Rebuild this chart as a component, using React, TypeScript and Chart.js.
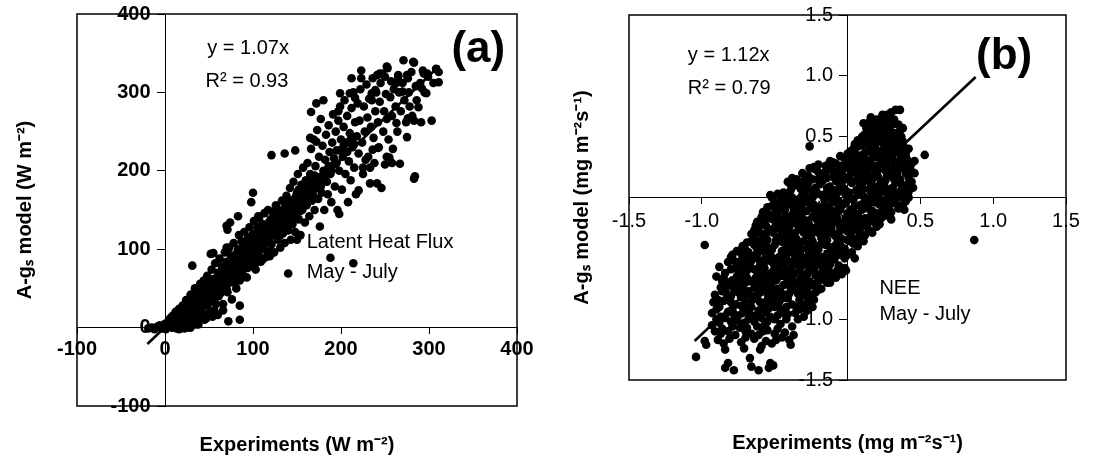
import React, { useEffect, useRef } from "react";
import { Chart, registerables } from "chart.js";

Chart.register(...registerables);

const FONT = "'Liberation Sans', Arial, Helvetica, sans-serif";

// ---------- Panel (a): Latent heat flux ----------
const latentTicksStep = 100;
const latentRange = [-100, 400];
const latentFit: [number, number][] = [[-20, -21], [312, 334]];
const latentPoints: [number, number][] = [
  [-19,-1],[-15,0],[-12,-2],[-9,1],[-6,3],[-4,-1],[-2,2],[0,5],[1,-2],[2,1],[3,1],[4,8],[5,3],[6,12],[6,4],[8,0],[8,6],[9,15],[9,8],[10,3],[11,10],[12,20],[13,-1],[13,4],[14,6],[15,14],[16,24],[16,10],[17,2],[18,10],[19,18],[19,6],
  [20,28],[21,5],[22,14],[22,9],[23,22],[24,35],[25,0],[25,16],[26,10],[27,18],[28,30],[28,12],[29,42],[30,8],[31,24],[31,18],[32,16],[33,36],[34,50],[34,22],[35,4],[35,28],[36,20],[37,44],[37,26],[38,12],[39,32],[39,20],[40,56],[40,38],
  [41,24],[42,46],[43,16],[43,30],[44,60],[45,34],[46,52],[46,40],[47,12],[48,28],[48,66],[49,40],[49,32],[50,56],[51,20],[52,48],[52,38],[53,74],[54,36],[55,62],[55,50],[56,44],[57,82],[58,30],[58,42],[59,54],[60,70],
  [61,40],[62,88],[62,54],[63,60],[64,50],[65,78],[65,58],[66,30],[67,66],[68,96],[68,64],[69,56],[70,84],[71,45],[71,62],[72,76],[73,102],[74,62],[74,72],[75,92],[76,36],[77,80],[77,70],[78,108],[79,66],[80,88],[80,78],
  [72,8],[85,10],[85,28],[31,79],[52,94],[70,130],[74,134],[83,142],[98,160],[100,172],[71,125],[55,95],[70,102],
  [81,50],[82,74],[83,100],[84,118],[84,86],[85,60],[86,88],[87,110],[88,72],[88,84],[89,96],[90,122],[91,82],[92,104],[92,94],[93,64],[94,114],[95,92],[96,128],[96,100],[97,78],[98,106],[99,118],[100,90],[100,104],
  [101,136],[102,100],[103,74],[104,116],[104,108],[105,128],[106,94],[106,142],[107,140],[108,108],[108,118],[109,84],[110,122],[110,131],[111,132],[112,100],[112,114],[113,146],[114,116],[115,90],[116,130],[117,150],[118,112],[118,126],[119,98],[120,138],[120,124],[119,91],
  [121,106],[121,220],[122,148],[123,130],[124,96],[124,130],[125,118],[126,156],[127,140],[128,112],[128,134],[129,128],[130,150],[131,102],[132,136],[133,162],[134,120],[134,140],[135,144],[136,108],[136,222],[137,130],[138,168],[139,152],[140,124],[140,150],[140,69],
  [141,140],[142,178],[143,112],[144,156],[145,132],[146,186],[146,160],[147,164],[148,122],[149,146],[150,172],[150,112],[151,196],[152,138],[152,164],[153,158],[154,118],[155,182],[156,150],[157,204],[158,166],[158,170],[159,134],[160,188],[148,226],
  [161,156],[162,210],[163,174],[164,142],[165,196],[165,242],[166,228],[167,162],[166,275],[168,186],[169,240],[170,150],[171,206],[172,178],[172,237],[173,252],[174,164],[175,218],[176,192],[176,129],[177,266],[178,172],[179,232],[180,200],[172,286],[180,290],
  [181,150],[182,214],[183,246],[184,186],[185,170],[186,258],[187,224],[188,196],[188,89],[189,160],[190,236],[191,272],[192,208],[193,180],[194,250],[195,226],[196,150],[197,264],[197,276],[198,200],[198,145],[199,282],[199,299],[200,240],
  [201,176],[202,218],[203,256],[204,290],[205,196],[206,236],[207,270],[208,160],[209,212],[210,248],[210,299],[211,188],[212,280],[212,318],[213,230],[214,300],[214,82],[215,204],[216,262],[216,293],[217,170],[218,244],[219,286],[220,222],[220,175],
  [221,264],[222,304],[223,328],[223,318],[224,236],[225,196],[225,204],[226,282],[227,250],[228,214],[229,310],[230,268],[231,218],[232,292],[233,184],[233,204],[234,256],[235,290],[235,299],[236,318],[236,227],[237,242],[238,210],[239,303],[239,276],[240,300],
  [241,322],[241,184],[242,262],[242,229],[243,230],[244,288],[244,324],[245,312],[246,178],[247,324],[248,250],[249,276],[250,208],[250,320],[251,298],[252,266],[252,333],[253,331],[252,218],[254,240],[255,217],[256,294],[257,314],[258,270],[258,210],[259,228],[260,304],
  [262,282],[263,312],[263,261],[264,250],[265,322],[265,320],[266,300],[267,209],[268,276],[270,312],[271,341],[270,301],[272,290],[274,262],[275,243],[275,322],[276,318],[276,267],[277,300],[278,282],[280,326],[281,270],[282,339],[283,338],[283,190],[283,264],[284,193],[285,308],[286,290],[288,281],[290,312],
  [291,262],[292,305],[293,328],[294,324],[295,300],[297,299],[298,324],[299,320],[303,264],[305,312],[308,330],[311,313],[311,326],
  [3,6],[7,9],[10,12],[14,12],[17,16],[21,18],[24,24],[27,26],[30,30],[33,28],[36,34],[38,40],[41,36],[44,44],[47,48],[50,44],[53,54],[56,56],[59,62],[62,66],[64,72],[67,74],[70,72],[73,80],[76,84],[79,86],[82,92],[85,96],[87,100],[90,104],[93,110],[96,112],[99,112],[102,120],[105,110],[107,124],[110,114],[113,128],[116,122],[119,132],[122,138],[125,142],[128,146],[131,140],[134,148],[137,156],[140,160],[143,162],[146,150],[149,168],[152,176],[155,170],[158,178],[161,182],[164,188],[167,190],[170,194],
  [20,12],[26,4],[33,12],[42,20],[50,32],[56,22],[63,44],[70,50],[76,58],[82,60],[88,64],[94,76],[100,80],[106,84],[112,88],[45,10],[38,4],[29,0],[22,-1],[16,-2],[54,14],[60,16],[66,22],
  [5,10],[8,14],[11,6],[14,17],[18,14],[20,20],[23,12],[26,22],[29,20],[31,32],[34,26],[36,40],[39,36],[42,34],[44,50],[47,42],[50,38],[51,52],[54,44],[57,60],[60,46],[61,58],[64,62],[66,54],[69,70],[72,66],[73,58],[75,78],[78,74],[80,68],[81,94],[84,78],[86,92],[89,88],[91,100],[94,98],[95,84],[97,108],[100,98],[101,114],[103,94],[105,104],[106,120],[109,102],[111,124],[114,108],[116,118],[118,134],[121,118],[123,140],[126,124],[129,140],[131,118],[133,130],[136,138],[138,146],[142,150],[144,136],[147,144],[150,154],[153,148],[156,160],[159,156],[162,166],[165,176],[168,170],[171,180],[174,186],[177,180],[180,188],[183,196],[186,206],[189,200],[192,216],[195,210],[199,226],[203,232],[207,224],[211,240],[215,234]
];

// ---------- Panel (b): NEE ----------
const neeTicksStep = 0.5;
const neeRange = [-1.5, 1.5];
const neeFit: [number, number][] = [[-1.05, -1.18], [0.88, 0.99]];
const neePoints: [number, number][] = [
  [-1.04,-1.31],[-0.84,-1.40],[-0.78,-1.42],[-0.61,-1.42],[-0.54,-1.40],[-0.53,-1.36],[-0.66,-1.39],[-0.67,-1.32],[-0.51,-1.38],[-0.82,-1.36],
  [-0.98,-1.18],[-0.97,-1.21],[-0.89,-1.17],[-0.85,-1.2],[-0.84,-1.25],[-0.71,-1.24],[-0.6,-1.25],[-0.59,-1.22],[-0.70,-1.15],[-0.4,-1.17],[-0.39,-1.21],[-0.77,-1.13],[-0.64,-1.16],[-0.5,-1.12],[-0.56,-1.18],
  [-0.93,-1.05],[-0.86,-1.08],[-0.8,-1.02],[-0.74,-1.07],[-0.68,-1.0],[-0.62,-1.06],[-0.55,-1.02],[-0.48,-1.08],[-0.42,-1.0],[-0.34,-1.0],[-0.9,-1.0],[-0.58,-1.1],[-0.7,-1.1],[-0.46,-1.04],
  [-0.93,-0.95],[-0.88,-0.9],[-0.82,-0.94],[-0.77,-0.88],[-0.72,-0.95],[-0.66,-0.9],[-0.6,-0.86],[-0.56,-0.94],[-0.5,-0.9],[-0.44,-0.95],[-0.38,-0.88],[-0.33,-0.92],[-0.27,-0.86],[-0.85,-0.85],[-0.63,-0.97],[-0.47,-0.86],
  [-0.89,-0.84],[-0.83,-0.79],[-0.78,-0.75],[-0.73,-0.82],[-0.68,-0.77],[-0.62,-0.81],[-0.57,-0.76],[-0.52,-0.82],[-0.46,-0.78],[-0.41,-0.83],[-0.36,-0.76],[-0.31,-0.8],[-0.27,-0.83],[-0.28,-0.76],[-0.22,-0.78],[-0.86,-0.77],[-0.65,-0.84],[-0.48,-0.75],
  [-0.83,-0.73],[-0.9,-0.65],[-0.79,-0.68],[-0.74,-0.72],[-0.69,-0.66],[-0.64,-0.71],[-0.59,-0.67],[-0.54,-0.73],[-0.49,-0.68],[-0.44,-0.72],[-0.39,-0.66],[-0.34,-0.7],[-0.29,-0.67],[-0.24,-0.72],[-0.19,-0.68],[-0.14,-0.7],[-0.12,-0.7],[-0.56,-0.65],[-0.72,-0.74],[-0.31,-0.74],
  [-0.88,-0.57],[-0.84,-0.62],[-0.77,-0.58],[-0.72,-0.63],[-0.67,-0.56],[-0.62,-0.61],[-0.57,-0.58],[-0.52,-0.63],[-0.47,-0.56],[-0.42,-0.6],[-0.37,-0.63],[-0.32,-0.57],[-0.27,-0.61],[-0.22,-0.56],[-0.17,-0.6],[-0.16,-0.57],[-0.1,-0.62],[-0.02,-0.58],[-0.01,-0.6],[-0.6,-0.55],[-0.35,-0.55],
  [-0.8,-0.49],[-0.79,-0.47],[-0.75,-0.53],[-0.68,-0.45],[-0.7,-0.51],[-0.64,-0.48],[-0.59,-0.53],[-0.54,-0.46],[-0.49,-0.51],[-0.44,-0.47],[-0.39,-0.53],[-0.34,-0.45],[-0.29,-0.5],[-0.24,-0.46],[-0.19,-0.52],[-0.14,-0.47],[-0.09,-0.51],[-0.05,-0.46],[-0.55,-0.52],[-0.27,-0.54],
  [-0.98,-0.39],[-0.72,-0.4],[-0.66,-0.36],[-0.62,-0.42],[-0.57,-0.38],[-0.52,-0.43],[-0.47,-0.36],[-0.42,-0.41],[-0.37,-0.37],[-0.32,-0.43],[-0.27,-0.38],[-0.22,-0.42],[-0.17,-0.36],[-0.12,-0.41],[-0.07,-0.37],[-0.02,-0.42],[0,-0.35],[-0.45,-0.44],[-0.1,-0.44],
  [-0.66,-0.3],[-0.62,-0.26],[-0.58,-0.32],[-0.53,-0.27],[-0.48,-0.33],[-0.43,-0.28],[-0.38,-0.32],[-0.33,-0.26],[-0.28,-0.31],[-0.23,-0.27],[-0.18,-0.33],[-0.13,-0.28],[-0.08,-0.32],[-0.03,-0.26],[0.02,-0.3],[0.07,-0.27],[0.12,-0.31],[-0.35,-0.34],
  [-0.59,-0.16],[-0.62,-0.2],[-0.56,-0.23],[-0.51,-0.18],[-0.46,-0.22],[-0.41,-0.16],[-0.36,-0.21],[-0.31,-0.17],[-0.26,-0.23],[-0.21,-0.18],[-0.16,-0.22],[-0.11,-0.16],[-0.06,-0.21],[-0.01,-0.17],[0.04,-0.22],[0.09,-0.18],[0.14,-0.21],[0.18,-0.2],[0.24,-0.16],[-0.4,-0.24],
  [-0.58,-0.12],[-0.55,-0.08],[-0.5,-0.13],[-0.47,-0.06],[-0.43,-0.1],[-0.38,-0.14],[-0.33,-0.07],[-0.28,-0.11],[-0.23,-0.06],[-0.18,-0.12],[-0.13,-0.08],[-0.08,-0.13],[-0.03,-0.06],[0.02,-0.1],[0.07,-0.14],[0.12,-0.07],[0.17,-0.11],[0.22,-0.06],[0.27,-0.1],[0.33,-0.05],[-0.2,-0.14],
  [-0.53,0.02],[-0.52,0.0],[-0.46,-0.02],[-0.41,0.03],[-0.36,-0.03],[-0.31,0.02],[-0.26,-0.02],[-0.21,0.04],[-0.16,-0.01],[-0.11,0.03],[-0.06,-0.03],[-0.01,0.02],[0.04,-0.02],[0.09,0.04],[0.14,-0.01],[0.19,0.03],[0.24,-0.03],[0.29,0.02],[0.35,0.0],[0.42,0.0],[0.4,-0.03],
  [-0.41,0.13],[-0.36,0.1],[-0.4,0.12],[-0.32,0.07],[-0.27,0.12],[-0.22,0.08],[-0.17,0.14],[-0.12,0.09],[-0.07,0.13],[-0.02,0.07],[0.03,0.12],[0.08,0.08],[0.13,0.14],[0.18,0.09],[0.23,0.13],[0.28,0.07],[0.33,0.12],[0.38,0.08],[0.44,0.13],[0.0,0.15],
  [-0.31,0.2],[-0.23,0.25],[-0.22,0.23],[-0.16,0.2],[-0.15,0.21],[-0.1,0.17],[-0.05,0.25],[-0.04,0.2],[0.01,0.17],[0.06,0.23],[0.11,0.18],[0.16,0.24],[0.21,0.17],[0.26,0.22],[0.31,0.18],[0.36,0.24],[0.4,0.2],[0.14,0.19],
  [-0.08,0.28],[-0.02,0.32],[0.03,0.27],[0.05,0.34],[0.08,0.31],[0.13,0.27],[0.18,0.33],[0.23,0.28],[0.28,0.34],[0.33,0.29],[0.38,0.33],[0.44,0.28],[0.53,0.35],[0.0,0.3],
  [-0.26,0.42],[0.02,0.38],[0.07,0.42],[0.09,0.46],[0.12,0.37],[0.17,0.43],[0.22,0.38],[0.27,0.44],[0.32,0.39],[0.37,0.43],[0.4,0.37],
  [0.07,0.47],[0.12,0.52],[0.17,0.48],[0.22,0.54],[0.27,0.49],[0.32,0.53],[0.37,0.5],[0.15,0.55],
  [0.11,0.61],[0.15,0.62],[0.2,0.58],[0.24,0.68],[0.27,0.68],[0.3,0.7],[0.33,0.72],[0.36,0.72],[0.38,0.57],[0.25,0.63],[0.31,0.6],
  [0.87,-0.35],
  [-0.75,-0.97],[-0.61,-0.93],[-0.53,-0.98],[-0.42,-0.9],[-0.8,-0.86],[-0.7,-0.8],[-0.6,-0.78],[-0.5,-0.8],[-0.4,-0.79],[-0.81,-0.7],[-0.66,-0.69],[-0.52,-0.7],[-0.37,-0.69],[-0.22,-0.64],[-0.75,-0.6],[-0.64,-0.59],[-0.45,-0.62],[-0.3,-0.64],[-0.12,-0.55],
  [-0.62,-0.5],[-0.47,-0.49],[-0.32,-0.48],[-0.17,-0.49],[-0.6,-0.4],[-0.4,-0.38],[-0.25,-0.4],[-0.05,-0.39],[-0.45,-0.3],[-0.3,-0.29],[-0.15,-0.3],[0.05,-0.34],[-0.48,-0.2],[-0.33,-0.19],[-0.18,-0.19],[0.0,-0.24],[0.1,-0.24],
  [-0.4,-0.05],[-0.25,-0.09],[-0.1,-0.04],[0.05,-0.07],[0.2,-0.13],[-0.3,0.05],[-0.14,0.05],[0.01,0.04],[0.16,0.05],[0.3,-0.02],[-0.2,0.15],[-0.05,0.1],[0.1,0.11],[0.25,0.1],[0.36,0.15],[-0.1,0.22],[0.08,0.2],[0.2,0.2],[0.33,0.22],[0.1,0.3],[0.25,0.31],[0.36,0.36],[0.15,0.4],[0.3,0.45],[0.2,0.5],
  [-0.87,-1.12],[-0.81,-1.16],[-0.73,-1.19],[-0.66,-1.12],[-0.52,-1.2],[-0.45,-1.15],[-0.91,-1.1],[-0.79,-1.06],[-0.71,-1.03],[-0.64,-1.02],[-0.57,-1.05],[-0.5,-1.0],[-0.38,-1.06],[-0.3,-0.98],
  [-0.87,-0.98],[-0.79,-0.92],[-0.69,-0.92],[-0.58,-0.89],[-0.53,-0.87],[-0.46,-0.92],[-0.36,-0.95],[-0.3,-0.88],[-0.24,-0.9],
  [-0.91,-0.8],[-0.8,-0.81],[-0.75,-0.78],[-0.7,-0.86],[-0.63,-0.75],[-0.55,-0.79],[-0.49,-0.85],[-0.43,-0.8],[-0.33,-0.84],[-0.25,-0.8],[-0.18,-0.75],
  [-0.86,-0.69],[-0.76,-0.65],[-0.7,-0.7],[-0.61,-0.64],[-0.57,-0.7],[-0.47,-0.65],[-0.41,-0.69],[-0.32,-0.66],[-0.26,-0.69],[-0.21,-0.7],[-0.16,-0.65],[-0.08,-0.66],
  [-0.82,-0.53],[-0.73,-0.56],[-0.69,-0.6],[-0.59,-0.6],[-0.5,-0.58],[-0.44,-0.55],[-0.39,-0.58],[-0.29,-0.55],[-0.25,-0.59],[-0.19,-0.55],[-0.13,-0.6],[-0.06,-0.56],
  [-0.76,-0.44],[-0.72,-0.48],[-0.66,-0.52],[-0.57,-0.45],[-0.52,-0.49],[-0.42,-0.5],[-0.37,-0.46],[-0.27,-0.48],[-0.22,-0.51],[-0.12,-0.48],[-0.02,-0.5],[0.03,-0.45],
  [-0.69,-0.37],[-0.64,-0.39],[-0.55,-0.35],[-0.5,-0.39],[-0.44,-0.37],[-0.35,-0.4],[-0.3,-0.36],[-0.19,-0.39],[-0.14,-0.35],[-0.04,-0.34],[0.04,-0.38],[0.08,-0.33],
  [-0.63,-0.23],[-0.6,-0.29],[-0.55,-0.28],[-0.5,-0.25],[-0.41,-0.27],[-0.36,-0.29],[-0.26,-0.28],[-0.21,-0.24],[-0.11,-0.25],[-0.06,-0.29],[0.0,-0.28],[0.05,-0.25],[0.15,-0.27],[0.2,-0.24],
  [-0.54,-0.14],[-0.49,-0.21],[-0.44,-0.17],[-0.34,-0.16],[-0.29,-0.21],[-0.24,-0.16],[-0.14,-0.18],[-0.09,-0.2],[0.02,-0.19],[0.07,-0.21],[0.12,-0.17],[0.2,-0.17],[0.28,-0.15],
  [-0.5,-0.04],[-0.45,-0.1],[-0.35,-0.11],[-0.3,-0.04],[-0.2,-0.08],[-0.15,-0.12],[-0.05,-0.1],[0.0,-0.13],[0.1,-0.1],[0.15,-0.05],[0.25,-0.07],[0.3,-0.12],[0.38,-0.06],
  [-0.44,0.04],[-0.38,0.0],[-0.28,0.0],[-0.23,0.02],[-0.13,0.0],[-0.08,0.02],[0.02,0.0],[0.07,0.02],[0.12,-0.03],[0.17,0.0],[0.22,0.03],[0.27,-0.01],[0.32,0.03],[0.38,0.02],
  [-0.35,0.15],[-0.3,0.11],[-0.25,0.06],[-0.19,0.11],[-0.09,0.06],[-0.04,0.12],[0.06,0.14],[0.11,0.07],[0.16,0.12],[0.21,0.06],[0.26,0.14],[0.31,0.08],[0.4,0.1],
  [-0.27,0.18],[-0.19,0.19],[-0.12,0.24],[-0.07,0.19],[0.03,0.21],[0.09,0.25],[0.13,0.22],[0.18,0.17],[0.23,0.24],[0.28,0.19],[0.34,0.2],[0.42,0.22],
  [-0.12,0.3],[-0.04,0.26],[0.02,0.33],[0.1,0.35],[0.15,0.3],[0.2,0.35],[0.27,0.27],[0.3,0.32],[0.35,0.28],[0.41,0.31],
  [0.04,0.4],[0.1,0.43],[0.19,0.41],[0.24,0.45],[0.29,0.41],[0.34,0.45],[0.39,0.41],[0.1,0.5],[0.19,0.52],[0.24,0.5],[0.29,0.55],[0.34,0.51],[0.13,0.57],[0.22,0.6],[0.28,0.62],[0.35,0.6],
  [-0.88,-1.03],[-0.82,-1.1],[-0.76,-1.01],[-0.69,-1.07],[-0.61,-1.13],[-0.55,-1.09],[-0.49,-1.17],[-0.43,-1.11],[-0.37,-1.13],
  [-0.9,-0.92],[-0.84,-0.99],[-0.78,-0.96],[-0.73,-0.89],[-0.67,-0.96],[-0.59,-0.99],[-0.54,-0.91],[-0.48,-0.97],[-0.41,-0.96],[-0.35,-0.9],[-0.28,-0.93],
  [-0.92,-0.86],[-0.87,-0.74],[-0.81,-0.83],[-0.76,-0.71],[-0.71,-0.77],[-0.66,-0.81],[-0.6,-0.72],[-0.55,-0.84],[-0.51,-0.76],[-0.45,-0.83],[-0.39,-0.74],[-0.34,-0.79],[-0.29,-0.72],[-0.23,-0.84],[-0.2,-0.76],
  [-0.85,-0.66],[-0.8,-0.59],[-0.74,-0.67],[-0.68,-0.54],[-0.63,-0.66],[-0.58,-0.62],[-0.53,-0.67],[-0.48,-0.61],[-0.43,-0.65],[-0.38,-0.61],[-0.33,-0.6],[-0.28,-0.64],[-0.23,-0.6],[-0.18,-0.63],[-0.13,-0.66],[-0.07,-0.6],[-0.04,-0.63],
  [-0.78,-0.52],[-0.73,-0.46],[-0.67,-0.49],[-0.62,-0.46],[-0.57,-0.51],[-0.51,-0.54],[-0.46,-0.52],[-0.41,-0.45],[-0.36,-0.51],[-0.31,-0.53],[-0.26,-0.51],[-0.21,-0.48],[-0.16,-0.53],[-0.11,-0.5],[-0.07,-0.47],[0.0,-0.47],[0.05,-0.5],
  [-0.7,-0.43],[-0.64,-0.33],[-0.6,-0.36],[-0.55,-0.41],[-0.49,-0.35],[-0.42,-0.34],[-0.38,-0.43],[-0.33,-0.38],[-0.28,-0.42],[-0.24,-0.36],[-0.2,-0.43],[-0.15,-0.39],[-0.09,-0.4],[-0.05,-0.43],[0.02,-0.36],[0.07,-0.4],[0.11,-0.36],
  [-0.64,-0.27],[-0.6,-0.23],[-0.56,-0.3],[-0.51,-0.29],[-0.46,-0.26],[-0.4,-0.3],[-0.34,-0.23],[-0.3,-0.26],[-0.25,-0.32],[-0.2,-0.29],[-0.16,-0.26],[-0.1,-0.3],[-0.05,-0.24],[0.03,-0.27],[0.09,-0.3],[0.13,-0.24],[0.17,-0.29],[0.22,-0.22],
  [-0.57,-0.19],[-0.53,-0.17],[-0.48,-0.15],[-0.43,-0.2],[-0.38,-0.18],[-0.32,-0.13],[-0.27,-0.19],[-0.22,-0.14],[-0.17,-0.16],[-0.12,-0.21],[-0.07,-0.17],[-0.02,-0.2],[0.05,-0.16],[0.1,-0.2],[0.16,-0.15],[0.22,-0.19],[0.26,-0.13],[0.3,-0.18],
  [-0.52,-0.07],[-0.48,-0.1],[-0.42,-0.06],[-0.37,-0.09],[-0.31,-0.1],[-0.26,-0.05],[-0.21,-0.1],[-0.16,-0.06],[-0.11,-0.11],[-0.06,-0.08],[-0.01,-0.04],[0.04,-0.11],[0.09,-0.06],[0.14,-0.09],[0.19,-0.04],[0.24,-0.11],[0.29,-0.06],[0.35,-0.09],[0.39,-0.1],
  [-0.48,0.03],[-0.43,-0.01],[-0.39,0.06],[-0.33,-0.01],[-0.29,0.07],[-0.24,0.0],[-0.18,0.02],[-0.14,0.08],[-0.09,0.0],[-0.04,0.05],[0.0,-0.01],[0.06,0.06],[0.11,0.01],[0.15,0.07],[0.2,0.0],[0.25,0.05],[0.31,0.0],[0.36,0.05],[0.42,0.05],[0.45,0.08],
  [-0.38,0.16],[-0.33,0.13],[-0.29,0.17],[-0.24,0.15],[-0.2,0.21],[-0.14,0.16],[-0.08,0.14],[-0.03,0.17],[0.02,0.14],[0.07,0.17],[0.12,0.15],[0.17,0.15],[0.22,0.1],[0.27,0.17],[0.32,0.15],[0.37,0.11],[0.42,0.16],[0.46,0.2],
  [-0.26,0.24],[-0.2,0.27],[-0.15,0.26],[-0.1,0.29],[-0.06,0.22],[0.0,0.24],[0.04,0.3],[0.07,0.27],[0.11,0.25],[0.16,0.27],[0.2,0.26],[0.25,0.25],[0.3,0.25],[0.36,0.31],[0.39,0.26],[0.43,0.24],[0.46,0.3],
  [-0.05,0.34],[0.0,0.36],[0.05,0.37],[0.12,0.32],[0.17,0.36],[0.22,0.32],[0.26,0.37],[0.31,0.35],[0.35,0.39],[0.4,0.34],[0.42,0.4],
  [0.05,0.44],[0.13,0.46],[0.2,0.45],[0.25,0.4],[0.28,0.47],[0.33,0.42],[0.38,0.46],[0.14,0.5],[0.17,0.53],[0.26,0.53],[0.31,0.49],[0.36,0.55],[0.18,0.6],[0.23,0.57],[0.27,0.58],[0.32,0.64],[0.2,0.64],[0.29,0.66],[0.16,0.66]
];

type Note = { text: string; x: number; y: number; size: number; bold?: boolean; align: CanvasTextAlign };

const latentNotes: Note[] = [
  { text: "y = 1.07x", x: 48, y: 356, size: 20, align: "left" },
  { text: "R\u00B2 = 0.93", x: 46, y: 314, size: 20, align: "left" },
  { text: "(a)", x: 356, y: 354, size: 44, bold: true, align: "center" },
  { text: "Latent Heat Flux", x: 161, y: 108, size: 20, align: "left" },
  { text: "May - July", x: 161, y: 70, size: 20, align: "left" },
];

const neeNotes: Note[] = [
  { text: "y = 1.12x", x: -1.096, y: 1.17, size: 20, align: "left" },
  { text: "R\u00B2 = 0.79", x: -1.096, y: 0.9, size: 20, align: "left" },
  { text: "(b)", x: 1.075, y: 1.157, size: 44, bold: true, align: "center" },
  { text: "NEE", x: 0.219, y: -0.746, size: 20, align: "left" },
  { text: "May - July", x: 0.219, y: -0.965, size: 20, align: "left" },
];

const framePlugin = {
  id: "frame",
  beforeDatasetsDraw(chart: any) {
    const { ctx, chartArea } = chart;
    const { left, top, right, bottom } = chartArea;
    ctx.save();
    ctx.strokeStyle = "#000";
    ctx.lineWidth = 1.5;
    ctx.strokeRect(left, top, right - left, bottom - top);
    ctx.restore();
  },
};

function notesPlugin(notes: Note[]) {
  return {
    id: "notes",
    afterDatasetsDraw(chart: any) {
      const { ctx, scales } = chart;
      ctx.save();
      ctx.fillStyle = "#000";
      ctx.textBaseline = "middle";
      for (const n of notes) {
        ctx.font = `${n.bold ? "bold " : ""}${n.size}px ${FONT}`;
        ctx.textAlign = n.align;
        ctx.fillText(n.text, scales.x.getPixelForValue(n.x), scales.y.getPixelForValue(n.y));
      }
      ctx.restore();
    },
  };
}

type PanelSpec = {
  points: [number, number][];
  fit: [number, number][];
  range: number[];
  step: number;
  decimals: number;
  tickBold: boolean;
  xTitle: string;
  yTitle: string;
  padding: { left: number; top: number; right: number; bottom: number };
  xTitlePad: { top: number; bottom: number };
  yTitlePad: { top: number; bottom: number };
  xTickPad: number;
  notes: Note[];
};

// y-axis labels on a value-positioned axis sit flush against the axis line;
// trailing spaces keep them clear of the tick marks
const Y_LABEL_GAP = "  \u2006";

function buildConfig(p: PanelSpec): any {
  const tickFont = { family: FONT, size: 20, weight: p.tickBold ? "bold" : "normal" };
  const titleFont = { family: FONT, size: 20, weight: "bold" };
  const fmt = (v: any) => (p.decimals ? Number(v).toFixed(p.decimals) : String(v));
  return {
    type: "scatter",
    data: {
      datasets: [
        {
          data: p.points.map(([x, y]) => ({ x, y })),
          pointRadius: 4.3,
          pointBackgroundColor: "#000",
          pointBorderWidth: 0,
          backgroundColor: "#000",
          borderColor: "#000",
          xAxisID: "x",
          yAxisID: "y",
        },
        {
          data: p.fit.map(([x, y]) => ({ x, y })),
          showLine: true,
          pointRadius: 0,
          borderColor: "#000",
          borderWidth: 2.6,
          xAxisID: "x",
          yAxisID: "y",
        },
      ],
    },
    options: {
      animation: false,
      responsive: false,
      devicePixelRatio: 1,
      events: [],
      layout: { padding: p.padding },
      plugins: { legend: { display: false }, tooltip: { enabled: false } },
      scales: {
        x: {
          type: "linear",
          position: { y: 0 },
          min: p.range[0],
          max: p.range[1],
          ticks: { stepSize: p.step, autoSkip: false, maxRotation: 0, font: tickFont, color: "#000", padding: p.xTickPad, callback: fmt },
          grid: { display: true, drawOnChartArea: false, drawTicks: true, tickLength: 6, color: "#000", lineWidth: 1 },
          border: { display: true, color: "#000", width: 1 },
        },
        y: {
          type: "linear",
          position: { x: 0 },
          min: p.range[0],
          max: p.range[1],
          ticks: { stepSize: p.step, autoSkip: false, font: tickFont, color: "#000", padding: 0, callback: (v: any) => fmt(v) + Y_LABEL_GAP },
          grid: { display: true, drawOnChartArea: false, drawTicks: true, tickLength: 8, color: "#000", lineWidth: 1 },
          border: { display: true, color: "#000", width: 1 },
        },
        xTitle: {
          type: "linear",
          axis: "x",
          position: "bottom",
          min: p.range[0],
          max: p.range[1],
          ticks: { display: false },
          grid: { display: false, drawTicks: false, tickLength: 0 },
          border: { display: false },
          title: { display: true, text: p.xTitle, font: titleFont, color: "#000", padding: p.xTitlePad },
        },
        yTitle: {
          type: "linear",
          axis: "y",
          position: "left",
          min: p.range[0],
          max: p.range[1],
          ticks: { display: false },
          grid: { display: false, drawTicks: false, tickLength: 0 },
          border: { display: false },
          title: { display: true, text: p.yTitle, font: titleFont, color: "#000", padding: p.yTitlePad },
        },
      },
    },
    plugins: [framePlugin, notesPlugin(p.notes)],
  };
}

const panelA: PanelSpec = {
  points: latentPoints,
  fit: latentFit,
  range: latentRange,
  step: latentTicksStep,
  decimals: 0,
  tickBold: true,
  xTitle: "Experiments (W m\u207B\u00B2)",
  yTitle: "A-g\u209B model (W m\u207B\u00B2)",
  padding: { left: 0, top: 14, right: 29, bottom: 0 },
  xTitlePad: { top: 27, bottom: 8 },
  yTitlePad: { top: 13, bottom: 40 },
  xTickPad: 4,
  notes: latentNotes,
};

const panelB: PanelSpec = {
  points: neePoints,
  fit: neeFit,
  range: neeRange,
  step: neeTicksStep,
  decimals: 1,
  tickBold: false,
  xTitle: "Experiments (mg m\u207B\u00B2s\u207B\u00B9)",
  yTitle: "A-g\u209B model (mg m\u207B\u00B2s\u207B\u00B9)",
  padding: { left: 0, top: 15, right: 27, bottom: 0 },
  xTitlePad: { top: 51, bottom: 10 },
  yTitlePad: { top: 24, bottom: 35 },
  xTickPad: 6,
  notes: neeNotes,
};

function Panel({ spec, left, width }: { spec: PanelSpec; left: number; width: number }) {
  const ref = useRef<HTMLCanvasElement | null>(null);
  useEffect(() => {
    if (!ref.current) return;
    const chart = new Chart(ref.current, buildConfig(spec));
    return () => chart.destroy();
  }, [spec]);
  return (
    <canvas
      ref={ref}
      width={width}
      height={465}
      style={{ position: "absolute", left, top: 0, width, height: 465 }}
    />
  );
}

export default function App() {
  return (
    <div style={{ position: "absolute", left: 0, top: 0, width: 1093, height: 465, background: "#fff", overflow: "hidden" }}>
      <Panel spec={panelA} left={0} width={546} />
      <Panel spec={panelB} left={546} width={547} />
    </div>
  );
}
